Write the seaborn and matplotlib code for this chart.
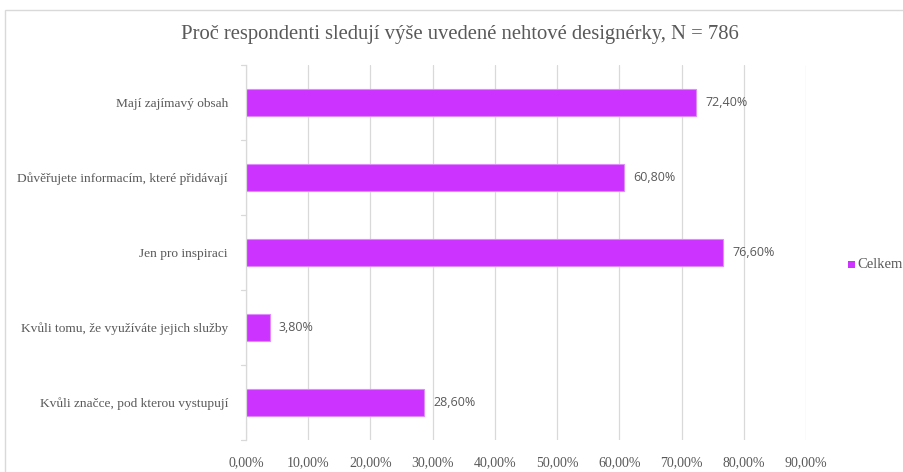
import matplotlib
matplotlib.use("Agg")
import matplotlib.pyplot as plt
import seaborn as sns
import pandas as pd
from matplotlib.patches import Rectangle

categories = [
    "Mají zajímavý obsah",
    "Důvěřujete informacím, které přidávají",
    "Jen pro inspiraci",
    "Kvůli tomu, že využíváte jejich služby",
    "Kvůli značce, pod kterou vystupují",
]
values = [72.4, 60.8, 76.6, 3.8, 28.6]
series_name = "Celkem"
x_ticks = [0, 10, 20, 30, 40, 50, 60, 70, 80, 90]
title = "Proč respondenti sledují výše uvedené nehtové designérky, N = 786"

bar_color = "#CC33FF"
text_color = "#595959"
grid_color = "#D9D9D9"

df = pd.DataFrame({"kategorie": categories, "hodnota": values, "serie": series_name})

sns.set_theme(style="white")
plt.rcParams["font.family"] = ["Liberation Serif", "DejaVu Serif"]

fig = plt.figure(figsize=(9.04, 4.72), dpi=100)
ax = fig.add_axes([246 / 904, 1 - 440 / 472, (806 - 246) / 904, (440 - 65) / 472])

sns.barplot(data=df, y="kategorie", x="hodnota", hue="serie", palette=[bar_color],
            orient="h", width=0.36, ax=ax, legend=False, saturation=1,
            edgecolor="#E08AFF", linewidth=0.8)

ax.set_xlim(0, 90)
ax.set_ylim(4.5, -0.5)
ax.set_xticks(x_ticks)
ax.set_xticklabels([f"{t:.2f}%".replace(".", ",") for t in x_ticks],
                   fontsize=10, color=text_color)
ax.tick_params(axis="x", length=0, pad=12)
ax.tick_params(axis="y", length=0, pad=13)
for lbl in ax.get_yticklabels():
    lbl.set_fontsize(9.6)
    lbl.set_color(text_color)
ax.set_xlabel("")
ax.set_ylabel("")
ax.grid(axis="x", color=grid_color, linewidth=0.9)
ax.set_axisbelow(True)
for s in ["top", "right", "bottom"]:
    ax.spines[s].set_visible(False)
ax.spines["left"].set_color(grid_color)
ax.spines["left"].set_linewidth(0.9)

# small category separator ticks on the left of the axis
for b in [-0.5, 0.5, 1.5, 2.5, 3.5, 4.5]:
    ax.plot([-0.8, 0], [b, b], color=grid_color, lw=0.9, clip_on=False)

for i, v in enumerate(values):
    ax.text(v + 1.5, i, f"{v:.2f}%".replace(".", ","), va="center", ha="left",
            fontsize=9, color=text_color, family=["Open Sans", "DejaVu Sans"])

fig.text(0.5 + 8 / 904, 1 - 35 / 472, title, ha="center", va="center", fontsize=14.9,
         color=text_color)

# legend entry
fig.patches.append(Rectangle((848 / 904, 1 - 268 / 472), 7 / 904, 7 / 472,
                             transform=fig.transFigure, facecolor=bar_color, edgecolor="none"))
fig.text(857 / 904, 1 - 264 / 472, series_name, ha="left", va="center",
         fontsize=10.5, color=text_color)

# chart frame
fig.patches.append(Rectangle((5 / 904, -0.1), 1.2, 1 - 10 / 472 + 0.1,
                             transform=fig.transFigure, facecolor="none",
                             edgecolor=grid_color, linewidth=1))

fig.savefig("out.png", dpi=100)
